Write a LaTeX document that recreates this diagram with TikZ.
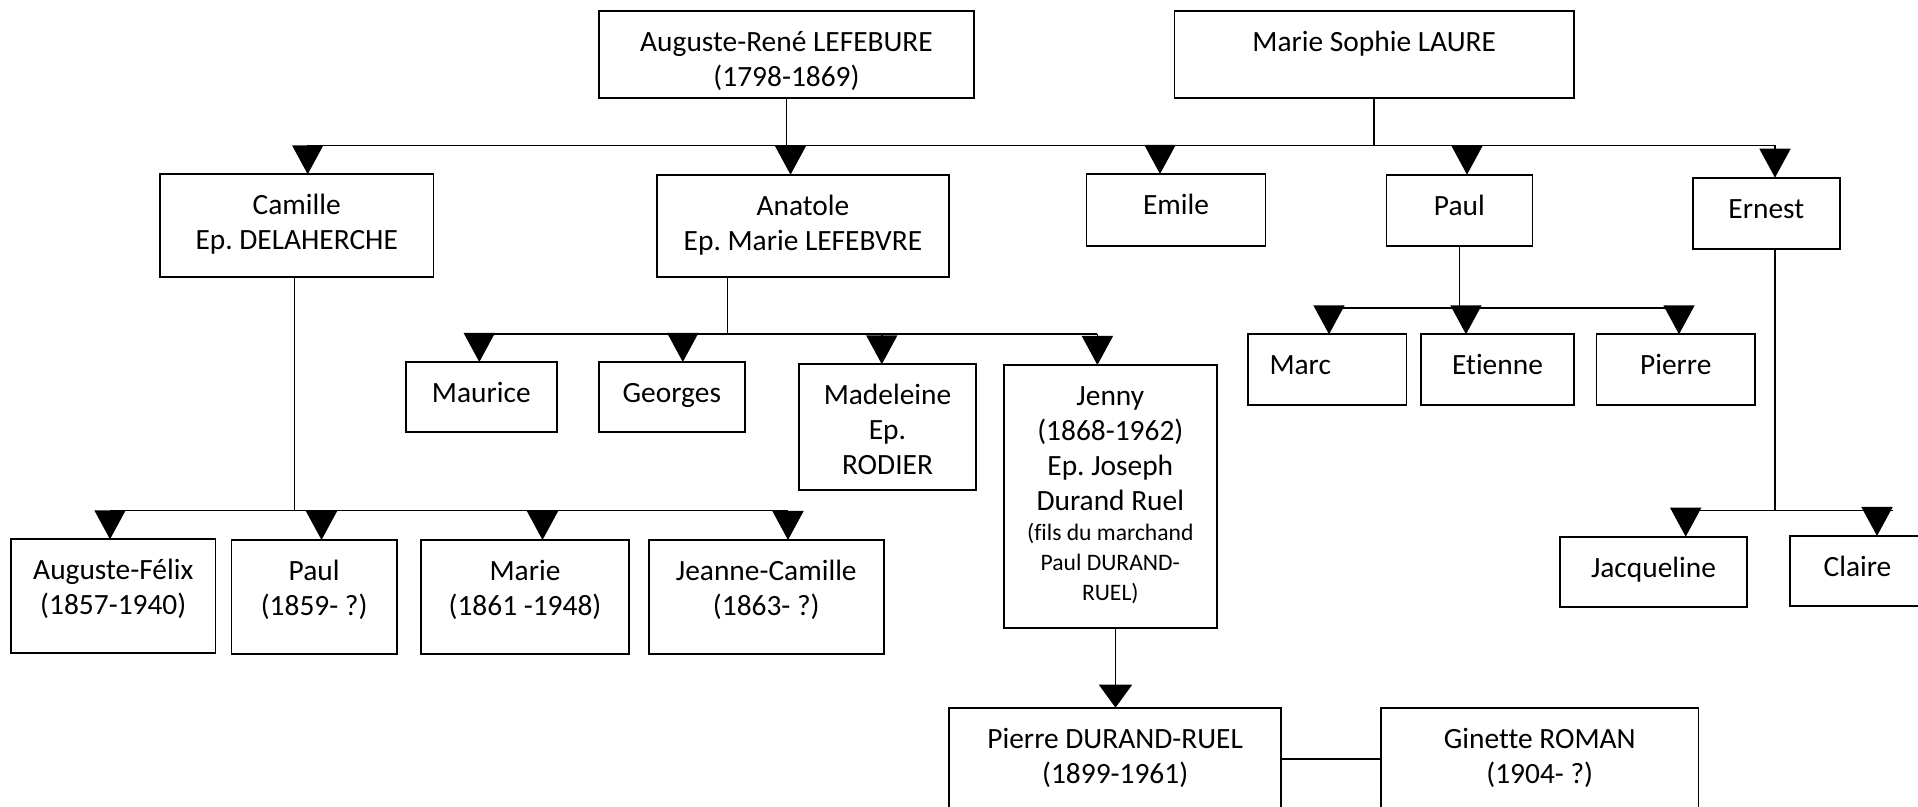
\documentclass[tikz,border=0pt]{standalone}
\usepackage{fontspec}
\setmainfont{Carlito}[Ligatures=NoCommon]
\frenchspacing
\usetikzlibrary{arrows.meta}
\tikzset{
  famrect/.style={draw, line width=0.9pt, rectangle, inner sep=0pt, outer sep=0pt,
    font=\fontsize{14.7}{17.5}\selectfont},
  conn/.style={line width=0.8pt},
  arr/.style={line width=0.8pt, -{Triangle[width=15.5pt,length=14.5pt]}},
  arrbig/.style={line width=0.8pt, -{Triangle[width=16.5pt,length=11.5pt]}}
}
\newcommand\famnode[6]{%
  \node[famrect, anchor=north west] (#1) at (#2,#3)
    {\parbox[c][\dimexpr(#5pt-#3pt)/2\relax][t]{\dimexpr(#4pt-#2pt)/2\relax}{\frenchspacing\centering\rule{0pt}{20.2pt}#6\par}};}
\begin{document}
\begin{tikzpicture}[x=0.5pt,y=-0.5pt]
\path[use as bounding box] (0,0) rectangle (1918,807);
\clip (0,0) rectangle (1918,807);
% generation 1
\famnode{aug}{599}{10.7}{974}{98}{Auguste-René LEFEBURE\\(1798-1869)}
\famnode{msl}{1174.4}{10.7}{1574}{98.3}{Marie Sophie LAURE}
% generation 2
\famnode{cam}{160}{174.3}{433.5}{277.3}{Camille\\Ep. DELAHERCHE}
\famnode{ana}{657}{174.7}{949}{277.3}{Anatole\\Ep. Marie LEFEBVRE}
\famnode{emi}{1086.5}{174}{1265.5}{246}{Emile}
\famnode{pau}{1386.4}{174.7}{1532.4}{246}{Paul}
\famnode{ern}{1693}{177.7}{1839.6}{249.3}{Ernest}
% children of Anatole
\famnode{mau}{406}{362}{556.6}{432}{Maurice}
\famnode{geo}{599}{362}{744.6}{432}{Georges}
\famnode{mad}{799}{364.3}{976}{490}{Madeleine\\Ep.\\RODIER}
\famnode{jen}{1004}{365}{1216.6}{627.7}{Jenny\\(1868-1962)\\Ep. Joseph\\Durand Ruel\par
  {\fontsize{11.8}{15}\selectfont (fils du marchand\\Paul DURAND-\\RUEL)\par}}
% children of Paul
\famnode{mar}{1248}{334.3}{1406.5}{405}{Marc\hspace*{27pt}}
\famnode{eti}{1421}{334.3}{1574}{405}{Etienne}
\famnode{pie}{1596.5}{334.3}{1755}{405}{Pierre}
% children of Camille
\famnode{af}{11}{539.3}{215.5}{653.3}{Auguste-Félix\\(1857-1940)}
\famnode{pfs}{231.5}{540}{396.8}{654}{Paul\\(1859- ?)}
\famnode{mr}{421}{540}{629}{654}{Marie\\(1861 -1948)}
\famnode{jc}{649}{540}{883.6}{654}{Jeanne-Camille\\(1863- ?)}
% children of Ernest
\famnode{jac}{1560}{536.7}{1747}{606.7}{Jacqueline}
\famnode{cla}{1790}{536}{1925}{605.7}{Claire}
% Jenny's son and his wife
\famnode{pdr}{949.3}{707.7}{1281}{840}{Pierre DURAND-RUEL\\(1899-1961)}
\famnode{gin}{1381}{707.7}{1698.5}{840}{Ginette ROMAN\\(1904- ?)}

% ---- top bus
\coordinate (tCam) at (307.7,145.5);
\coordinate (tAna) at (790.5,145.5);
\coordinate (tEmi) at (1160,145.5);
\coordinate (tPau) at (1467,145.5);
\coordinate (tErn) at (1775,145.5);
\draw[conn] (tCam) -- (tErn);
\draw[conn] (aug.south) -- (aug.south |- tCam);
\draw[conn] (msl.south) -- (msl.south |- tCam);
\foreach \c/\n in {tCam/cam,tAna/ana,tEmi/emi,tPau/pau,tErn/ern}
  \draw[arr] (\c) -- (\c |- \n.north);

% ---- Anatole's children
\coordinate (anaX) at (727.5,334);
\coordinate (tMau) at (479.3,334);
\coordinate (tGeo) at (682.8,334);
\coordinate (tMad) at (881.8,334);
\coordinate (tJen) at (1097.4,334);
\draw[conn] (anaX |- ana.south) -- (anaX);
\draw[conn] (tMau) -- (tJen);
\foreach \c/\n in {tMau/mau,tGeo/geo,tMad/mad,tJen/jen}
  \draw[arr] (\c) -- (\c |- \n.north);

% ---- Camille's children
\coordinate (camX) at (294.5,510.7);
\coordinate (tAf) at (110,510.7);
\coordinate (tPfs) at (321.5,510.7);
\coordinate (tMr) at (542.5,510.7);
\coordinate (tJc) at (788,510.7);
\draw[conn] (camX |- cam.south) -- (camX);
\draw[conn] (tAf) -- (tJc);
\foreach \c/\n in {tAf/af,tPfs/pfs,tMr/mr,tJc/jc}
  \draw[arr] (\c) -- (\c |- \n.north);

% ---- Paul's children
\coordinate (tMar) at (1329,308.3);
\coordinate (tEti) at (1466,308.3);
\coordinate (tPie) at (1679,308.3);
\draw[conn] (pau.south) -- (pau.south |- tMar);
\draw[conn] (tMar) -- (tPie);
\foreach \c/\n in {tMar/mar,tEti/eti,tPie/pie}
  \draw[arr] (\c) -- (\c |- \n.north);

% ---- Ernest's children
\coordinate (ernX) at (1775,510.7);
\coordinate (tJac) at (1685.7,510.7);
\coordinate (tCla) at (1877,510.7);
\coordinate (busEnd) at (1893,510.7);
\draw[conn] (ernX |- ern.south) -- (ernX);
\draw[conn] (tJac) -- (busEnd);
\foreach \c/\n in {tJac/jac,tCla/cla}
  \draw[arr] (\c) -- (\c |- \n.north);

% ---- Jenny -> Pierre DURAND-RUEL
\coordinate (jenX) at (1115.5,627.7);
\draw[arrbig] (jenX |- jen.south) -- (jenX |- pdr.north);

% ---- marriage line
\coordinate (mY) at (0,758.7);
\draw[conn] (pdr.east |- mY) -- (gin.west |- mY);
\end{tikzpicture}
\end{document}
